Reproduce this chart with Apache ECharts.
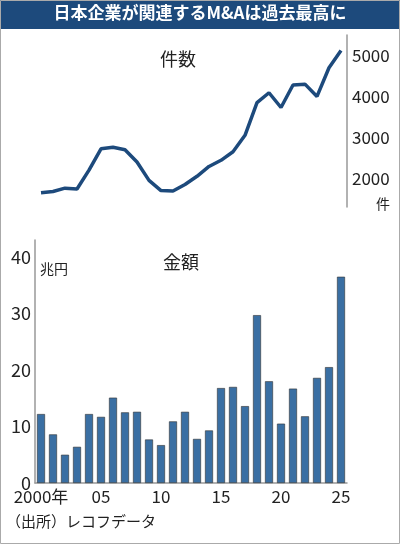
<!DOCTYPE html>
<html><head><meta charset="utf-8">
<script src="https://cdn.jsdelivr.net/npm/echarts@6/dist/echarts.min.js"></script>
<style>html,body{margin:0;padding:0;background:#fff}#c{width:400px;height:544px}</style>
</head><body><div id="c"></div>
<script>
const years = ['2000','2001','2002','2003','2004','2005','2006','2007','2008','2009','2010','2011','2012','2013','2014','2015','2016','2017','2018','2019','2020','2021','2022','2023','2024','2025'];
const counts = [1650,1680,1760,1740,2200,2720,2760,2700,2400,1950,1700,1690,1850,2050,2290,2440,2650,3050,3850,4090,3730,4280,4300,4000,4700,5120];
const amounts = [12.2,8.6,5.0,6.4,12.2,11.7,15.1,12.5,12.6,7.7,6.7,10.9,12.6,7.8,9.3,16.8,17.0,13.6,29.7,18.0,10.5,16.7,11.8,18.6,20.5,36.5];
const xLabels = {'2000':'2000年','2005':'05','2010':'10','2015':'15','2020':'20','2025':'25'};
const F = '"Noto Sans CJK JP","Noto Sans",sans-serif';
const chart = echarts.init(document.getElementById('c'));
chart.setOption({
  animation:false,
  graphic:[
    {type:'rect',shape:{x:0,y:0,width:400,height:29},style:{fill:'#1d4a7c'}},
    {type:'text',left:'center',top:4,style:{text:'日本企業が関連するM&Aは過去最高に',fill:'#fff',font:'bold 17px '+F}},
    {type:'rect',shape:{x:0.5,y:0.5,width:399,height:543},style:{fill:'none',stroke:'#aaa',lineWidth:1}},
    {type:'text',left:160,top:50,style:{text:'件数',fill:'#222',font:'18px '+F}},
    {type:'text',left:376,top:197,style:{text:'件',fill:'#222',font:'14px '+F}},
    {type:'text',left:163,top:253,style:{text:'金額',fill:'#222',font:'18px '+F}},
    {type:'text',left:40,top:262,style:{text:'兆円',fill:'#222',font:'14px '+F}},
    {type:'text',left:6,top:514,style:{text:'（出所）レコフデータ',fill:'#222',font:'15px '+F}}
  ],
  grid:[
    {left:35,right:53,top:35,bottom:337},
    {left:35,right:53,top:240,bottom:61}
  ],
  xAxis:[
    {gridIndex:0,type:'category',data:years,boundaryGap:true,show:false},
    {gridIndex:1,type:'category',data:years,boundaryGap:true,
     axisLine:{lineStyle:{color:'#999',width:1.5}},axisTick:{show:false},
     axisLabel:{interval:0,color:'#222',fontSize:17,fontFamily:F,margin:5,formatter:v=>xLabels[v]||''}}
  ],
  yAxis:[
    {gridIndex:0,type:'value',position:'right',min:1300,max:5500,interval:100,
     axisLine:{show:true,lineStyle:{color:'#999',width:1.5}},axisTick:{show:false},splitLine:{show:false},
     axisLabel:{color:'#222',fontSize:17,fontFamily:F,margin:5,formatter:v=>(v%1000===0?String(v):'')}},
    {gridIndex:1,type:'value',min:0,max:43,interval:10,
     axisLine:{show:true,lineStyle:{color:'#999',width:1.5}},axisTick:{show:false},splitLine:{show:false},
     axisLabel:{color:'#222',fontSize:18,fontFamily:F,margin:4,showMaxLabel:false}}
  ],
  series:[
    {type:'line',xAxisIndex:0,yAxisIndex:0,data:counts,symbol:'none',lineStyle:{color:'#1d4a7c',width:3.5}},
    {type:'bar',xAxisIndex:1,yAxisIndex:1,data:amounts,barWidth:8,itemStyle:{color:'#3a6fa3',borderColor:'#333',borderWidth:0.6}}
  ]
});
</script></body></html>
